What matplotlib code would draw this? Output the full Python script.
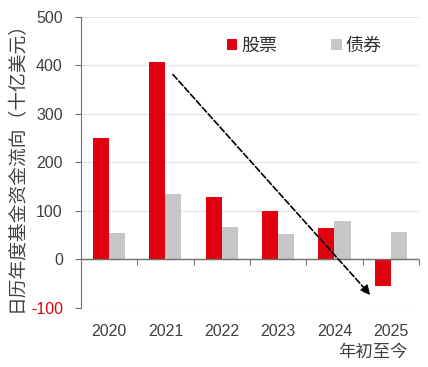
import matplotlib.pyplot as plt
import numpy as np

plt.rcParams['font.family'] = ['Liberation Sans', 'Noto Sans CJK SC', 'DejaVu Sans']

years = ['2020', '2021', '2022', '2023', '2024', '2025']
stocks = [249, 406, 128, 100, 65, -56]
bonds = [54, 135, 66, 52, 78, 56]
yticks = [-100, 0, 100, 200, 300, 400, 500]

red = '#E0000F'
grey = '#C6C6C6'
cjk = ['Noto Sans CJK SC', 'DejaVu Sans']

fig = plt.figure(figsize=(4.28, 3.67), dpi=100)
ax = fig.add_axes([0.189, 0.1616, 0.79, 0.793])

x = np.arange(len(years))
w = 0.285
ax.bar(x - w / 2, stocks, w, color=red, label='股票', zorder=3)
ax.bar(x + w / 2, bonds, w, color=grey, label='债券', zorder=3)

ax.set_xlim(-0.5, 5.5)
ax.set_ylim(-100, 500)
ax.set_yticks(yticks)
ax.set_yticklabels([str(v) for v in yticks], fontsize=11.5, color='#404040')
ax.get_yticklabels()[0].set_color(red)
ax.yaxis.grid(True, color='#E3E3E3', linewidth=0.9, zorder=0)
ax.tick_params(axis='y', direction='out', length=4, color='#707070', pad=9)

ax.set_xticks(x)
ax.set_xticklabels(years, fontsize=11.5, color='#404040')
ax.tick_params(axis='x', length=0, pad=12)

for s in ['top', 'right', 'bottom']:
    ax.spines[s].set_visible(False)
ax.spines['left'].set_color('#707070')

# zero line with category boundary ticks
ax.axhline(0, color='#707070', linewidth=1, zorder=4)
sec = ax.secondary_xaxis((0 - ax.get_ylim()[0]) / (ax.get_ylim()[1] - ax.get_ylim()[0]))
sec.set_xticks(np.arange(0.5, 6, 1))
sec.set_xticklabels([])
sec.tick_params(direction='out', length=4, color='#707070')
sec.spines['bottom'].set_visible(False)

ax.text(5.3, -0.152, '年初至今', transform=ax.get_xaxis_transform(),
        ha='right', va='center', fontsize=12.5, color='#404040', family=cjk)

ax.set_ylabel('日历年度基金资金流向（十亿美元）', fontsize=13.5, color='#404040',
              family=cjk, labelpad=3)

ax.legend(loc='center', bbox_to_anchor=(0.66, 0.9), ncol=2, frameon=False,
          prop={'family': cjk, 'size': 13}, handlelength=0.6, handleheight=0.6,
          handletextpad=0.2, columnspacing=3.0, labelcolor='#303030')

ax.annotate('', xy=(4.67, -78), xytext=(1.1, 385),
            arrowprops=dict(arrowstyle='-|>', color='black', linestyle='--',
                            linewidth=1.2, mutation_scale=14), zorder=5)

plt.savefig('out.png', dpi=100)
